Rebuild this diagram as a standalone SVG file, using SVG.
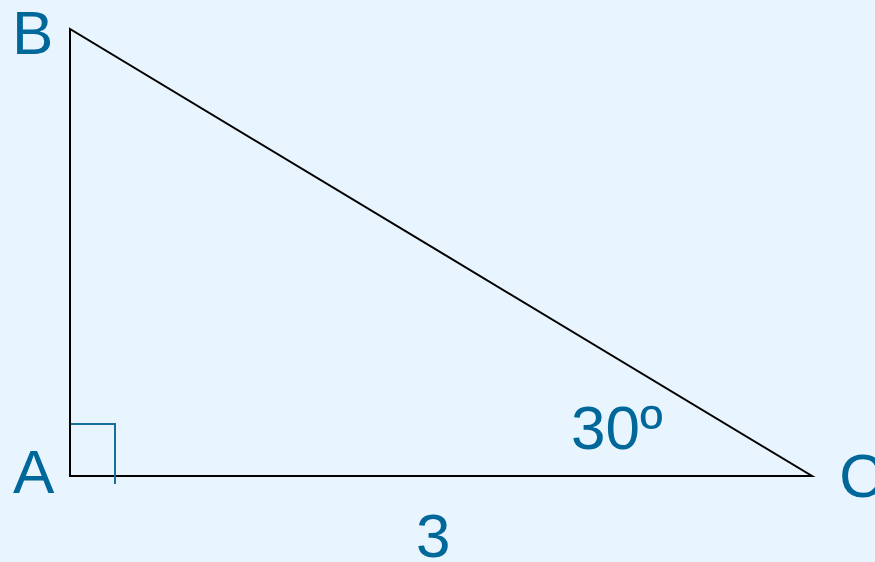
<svg xmlns="http://www.w3.org/2000/svg" width="875" height="562" viewBox="0 0 875 562">
<style>
.lbl{font-family:"Liberation Sans",Arial,sans-serif;font-size:62px;fill:#00679a}
.edge{fill:none;stroke:#000;stroke-width:2}
.mark{fill:none;stroke:#1a6e9a;stroke-width:2}
</style>
<rect width="875" height="562" fill="#e9f5fe"/>
<g id="connectors">
<polygon points="70,29 70,476 812,476" fill="#fff" class="edge"/>
<polyline class="mark" points="71,424 115,424 115,484"/>
</g>
<g id="A"><text class="lbl" x="13" y="493">A</text></g>
<g id="B"><text class="lbl" x="12" y="54">B</text></g>
<g id="C"><text class="lbl" x="839" y="497">C</text></g>
<g id="angle"><text class="lbl" x="571" y="449">30º</text></g>
<g id="side"><text class="lbl" x="416" y="557">3</text></g>
</svg>
